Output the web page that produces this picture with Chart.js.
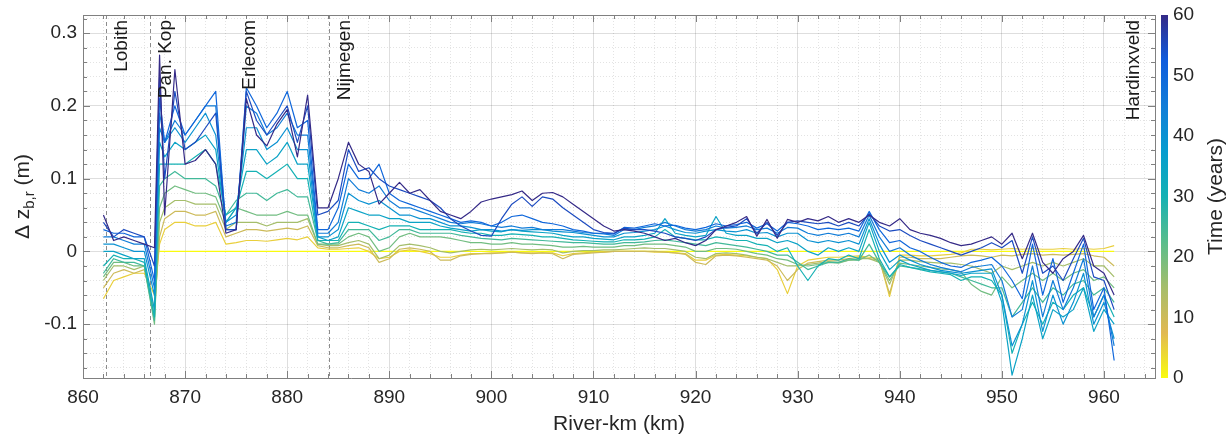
<!DOCTYPE html>
<html>
<head>
<meta charset="utf-8">
<script src="https://cdn.jsdelivr.net/npm/chart.js@4.4.1/dist/chart.umd.min.js"></script>
<style>
  html, body { margin: 0; padding: 0; background: #fff; }
  #wrap { width: 1228px; height: 438px; }
</style>
</head>
<body>
<div id="wrap"><canvas id="chart" width="1228" height="438"></canvas></div>
<script>
// river-km of the output cross-sections
const km = [862, 863, 864, 865, 866, 867, 867.5,
  868, 869, 870, 871, 872, 873, 874, 875,
  876, 877, 878, 879, 880, 881, 882, 883,
  884, 885, 886, 887, 888, 889, 890, 891, 892, 893, 894, 895,
  896, 897, 898, 899, 900, 901, 902, 903, 904, 905, 906, 907, 908, 909, 910, 911, 912,
  913, 914, 915, 916, 917, 918, 919, 920, 921, 922, 923, 924, 925, 926, 927, 928, 929, 930,
  931, 932, 933, 934, 935, 936, 937, 938, 939, 940, 941, 942, 943, 944, 945, 946,
  947, 948, 949, 950, 951, 952, 953, 954, 955, 956, 957, 958, 959, 960, 961];

// years after start for each plotted profile
const years = [0, 5, 10, 15, 20, 25, 30, 35, 40, 45, 50, 55, 60];

// bed level change dz_b,r (m) per profile
const dz0 = [null, null, null, null, null, null, 0,
  0, 0, 0, 0, 0, 0, 0, 0,
  0, 0, 0, 0, 0, 0, 0, 0,
  0, 0, 0, 0, 0, 0, 0, 0, 0, 0, 0, 0,
  0, 0, 0, 0, 0, 0, 0, 0, 0, 0, 0, 0, 0, 0, 0, 0, 0,
  0, 0, 0, 0, 0, 0, 0, 0, 0, 0, 0, 0, 0, 0, 0, 0, 0, 0,
  0, 0, 0, 0, 0, 0, 0, 0, 0, 0, 0, 0, 0, 0, 0, 0,
  0, 0, 0, 0, 0, 0, 0, 0, 0, 0, 0, 0, 0, 0, 0];
const dz5 = [-0.065, -0.04, -0.035, -0.03, -0.03, -0.06, 0.01,
  0.03, 0.04, 0.04, 0.035, 0.035, 0.04, 0.01, 0.012,
  0.015, 0.015, 0.014, 0.016, 0.018, 0.016, 0.02, 0.005,
  0.003, 0.003, 0.004, 0.005, 0.0, -0.01, -0.008, 0.0, 0.002, 0.0, -0.003, -0.008,
  -0.008, -0.005, -0.003, -0.003, -0.002, -0.002, -0.001, -0.002, -0.002, -0.002, -0.002, -0.006, -0.003, -0.002, -0.001, -0.001, 0.0,
  0.0, 0.0, 0.0, -0.001, -0.001, -0.002, -0.003, -0.012, -0.012, -0.005, -0.004, -0.005, -0.006, -0.008, -0.01, -0.025, -0.058, -0.02,
  -0.012, -0.01, -0.008, -0.008, -0.007, -0.006, -0.008, -0.01, -0.062, -0.005, -0.005, -0.006, -0.006, -0.005, -0.004, -0.002,
  0.003, 0.003, 0.002, 0.003, 0.004, 0.003, 0.004, 0.003, 0.003, 0.004, 0.003, 0.004, 0.003, 0.004, 0.008];
const dz10 = [-0.05, -0.03, -0.025, -0.03, -0.025, -0.08, 0.02,
  0.045, 0.055, 0.055, 0.05, 0.05, 0.055, 0.02, 0.025,
  0.03, 0.03, 0.028, 0.03, 0.032, 0.03, 0.035, 0.008,
  0.005, 0.005, 0.008, 0.01, 0.005, -0.015, -0.01, 0.003, 0.005, 0.003, 0.0, -0.012,
  -0.012, -0.006, -0.004, -0.003, -0.003, -0.002, -0.001, -0.002, -0.003, -0.002, -0.003, -0.01, -0.004, -0.003, -0.002, -0.001, 0.0,
  0.0, 0.0, 0.0, 0.0, -0.001, -0.002, -0.004, -0.015, -0.018, -0.006, -0.005, -0.006, -0.008, -0.01, -0.012, -0.02, -0.04, -0.025,
  -0.016, -0.014, -0.012, -0.012, -0.01, -0.008, -0.01, -0.012, -0.058, -0.008, -0.008, -0.01, -0.01, -0.01, -0.008, -0.006,
  -0.005, -0.006, -0.008, -0.005, -0.006, -0.004, -0.003, -0.005, -0.004, -0.005, -0.004, -0.003, -0.006, -0.008, -0.02];
const dz15 = [-0.04, -0.02, -0.02, -0.025, -0.02, -0.09, 0.04,
  0.06, 0.07, 0.07, 0.065, 0.065, 0.065, 0.03, 0.04,
  0.04, 0.04, 0.035, 0.04, 0.04, 0.04, 0.045, 0.01,
  0.008, 0.008, 0.012, 0.015, 0.01, -0.01, -0.005, 0.008, 0.01, 0.008, 0.005, 0.0,
  -0.002, 0.0, 0.002, 0.003, 0.002, 0.003, 0.004, 0.003, 0.002, 0.003, 0.002, -0.002, 0.0, 0.001, 0.001, 0.002, 0.002,
  0.003, 0.004, 0.005, 0.004, 0.004, 0.002, 0.0, -0.008, -0.01, -0.003, -0.002, -0.003, -0.005, -0.008, -0.01, -0.015, -0.02, -0.02,
  -0.018, -0.016, -0.014, -0.015, -0.012, -0.01, -0.01, -0.015, -0.045, -0.012, -0.012, -0.014, -0.015, -0.016, -0.016, -0.018,
  -0.02, -0.025, -0.03, -0.02, -0.025, -0.02, -0.015, -0.02, -0.015, -0.02, -0.015, -0.01, -0.02, -0.02, -0.035];
const dz20 = [-0.035, -0.015, -0.015, -0.02, -0.02, -0.1, 0.06,
  0.08, 0.09, 0.085, 0.08, 0.08, 0.075, 0.04, 0.06,
  0.055, 0.05, 0.05, 0.05, 0.055, 0.05, 0.05, 0.01,
  0.01, 0.01, 0.02, 0.025, 0.02, 0.0, 0.005, 0.02, 0.025, 0.02, 0.02, 0.02,
  0.018, 0.015, 0.012, 0.012, 0.01, 0.01, 0.012, 0.01, 0.01, 0.009, 0.008, 0.006, 0.006, 0.007, 0.006, 0.006, 0.006,
  0.008, 0.008, 0.01, 0.01, 0.01, 0.008, 0.006, 0.0, 0.0, 0.004, 0.004, 0.003, 0.0, -0.003, -0.005, -0.01, -0.012, -0.018,
  -0.02, -0.018, -0.015, -0.016, -0.012, -0.012, -0.005, -0.015, -0.04, -0.016, -0.018, -0.02, -0.022, -0.024, -0.025, -0.028,
  -0.045, -0.055, -0.06, -0.035, -0.05, -0.04, -0.03, -0.04, -0.03, -0.04, -0.03, -0.025, -0.04, -0.035, -0.05];
const dz25 = [-0.03, -0.01, -0.015, -0.015, -0.02, -0.095, 0.09,
  0.1, 0.11, 0.1, 0.1, 0.1, 0.09, 0.05, 0.07,
  0.08, 0.08, 0.07, 0.08, 0.085, 0.075, 0.075, 0.015,
  0.01, 0.012, 0.03, 0.03, 0.03, 0.015, 0.02, 0.03, 0.03, 0.025, 0.025, 0.025,
  0.025, 0.022, 0.02, 0.018, 0.017, 0.016, 0.018, 0.017, 0.016, 0.015, 0.014, 0.013, 0.012, 0.012, 0.011, 0.01, 0.01,
  0.012, 0.012, 0.013, 0.015, 0.016, 0.014, 0.012, 0.01, 0.008, 0.012, 0.01, 0.008, 0.006, 0.003, 0.0, -0.005, -0.005, -0.015,
  -0.025, -0.02, -0.015, -0.015, -0.01, -0.012, 0.01, -0.015, -0.035, -0.02, -0.022, -0.024, -0.026, -0.028, -0.03, -0.035,
  -0.04, -0.045, -0.05, -0.05, -0.09, -0.07, -0.05, -0.07, -0.05, -0.06, -0.045, -0.04, -0.06, -0.05, -0.07];
const dz30 = [-0.02, -0.005, -0.01, -0.01, -0.015, -0.09, 0.12,
  0.12, 0.12, 0.12, 0.13, 0.14, 0.12, 0.05, 0.06,
  0.11, 0.11, 0.1, 0.11, 0.12, 0.1, 0.1, 0.015,
  0.015, 0.015, 0.04, 0.04, 0.035, 0.03, 0.035, 0.035, 0.035, 0.03, 0.03, 0.03,
  0.03, 0.027, 0.025, 0.025, 0.022, 0.022, 0.024, 0.023, 0.022, 0.02, 0.02, 0.018, 0.016, 0.015, 0.014, 0.013, 0.013,
  0.016, 0.016, 0.017, 0.02, 0.03, 0.02, 0.018, 0.016, 0.016, 0.02, 0.018, 0.015, 0.015, 0.01, 0.008, 0.0, 0.005, -0.02,
  -0.04, -0.02, -0.01, -0.012, -0.005, -0.01, 0.03, -0.01, -0.035, -0.018, -0.022, -0.025, -0.028, -0.03, -0.032, -0.04,
  -0.035, -0.035, -0.04, -0.06, -0.14, -0.1, -0.07, -0.1, -0.07, -0.08, -0.06, -0.05, -0.09, -0.06, -0.09];
const dz35 = [0.0, 0.0, -0.005, -0.01, -0.01, -0.08, 0.15,
  0.13, 0.15, 0.14, 0.15, 0.16, 0.14, 0.04, 0.06,
  0.14, 0.14, 0.12, 0.13, 0.15, 0.12, 0.12, 0.02,
  0.015, 0.02, 0.06, 0.055, 0.05, 0.05, 0.045, 0.045, 0.04, 0.04, 0.04, 0.035,
  0.032, 0.03, 0.028, 0.03, 0.028, 0.027, 0.03, 0.028, 0.027, 0.026, 0.025, 0.022, 0.02, 0.02, 0.018, 0.017, 0.016,
  0.02, 0.02, 0.022, 0.025, 0.045, 0.025, 0.022, 0.02, 0.022, 0.048, 0.025, 0.022, 0.022, 0.018, 0.018, 0.012, 0.015, 0.01,
  0.0, -0.005, 0.005, 0.0, 0.005, 0.0, 0.04, 0.0, -0.025, -0.012, -0.018, -0.022, -0.026, -0.028, -0.03, -0.033,
  -0.03, -0.03, -0.03, -0.07, -0.17, -0.12, -0.06, -0.12, -0.08, -0.09, -0.08, -0.05, -0.11, -0.08, -0.1];
const dz40 = [0.01, 0.01, 0.005, 0.0, 0.0, -0.06, 0.17,
  0.15, 0.17, 0.15, 0.17, 0.19, 0.16, 0.04, 0.05,
  0.17, 0.17, 0.14, 0.15, 0.17, 0.14, 0.14, 0.02,
  0.02, 0.03, 0.08, 0.07, 0.065, 0.07, 0.06, 0.05, 0.05, 0.045, 0.045, 0.04,
  0.035, 0.035, 0.033, 0.03, 0.03, 0.028, 0.03, 0.029, 0.03, 0.03, 0.028, 0.027, 0.026, 0.024, 0.022, 0.02, 0.02,
  0.025, 0.026, 0.028, 0.03, 0.035, 0.03, 0.026, 0.025, 0.028, 0.03, 0.028, 0.027, 0.03, 0.025, 0.026, 0.02, 0.025, 0.025,
  0.015, 0.012, 0.015, 0.012, 0.015, 0.01, 0.045, 0.01, -0.015, -0.005, -0.012, -0.018, -0.022, -0.026, -0.028, -0.03,
  -0.028, -0.026, -0.024, -0.06, -0.13, -0.1, -0.04, -0.11, -0.06, -0.1, -0.07, -0.03, -0.1, -0.07, -0.12];
const dz45 = [0.02, 0.02, 0.015, 0.01, 0.01, -0.05, 0.19,
  0.15, 0.18, 0.16, 0.18, 0.2, 0.2, 0.035, 0.04,
  0.2, 0.19, 0.16, 0.17, 0.19, 0.16, 0.16, 0.025,
  0.025, 0.04, 0.1, 0.085, 0.08, 0.09, 0.07, 0.06, 0.06, 0.055, 0.05, 0.045,
  0.04, 0.038, 0.04, 0.038, 0.035, 0.033, 0.035, 0.032, 0.033, 0.03, 0.03, 0.03, 0.028, 0.026, 0.025, 0.024, 0.022,
  0.03, 0.03, 0.033, 0.035, 0.04, 0.035, 0.03, 0.028, 0.03, 0.035, 0.032, 0.033, 0.035, 0.03, 0.032, 0.025, 0.033, 0.032,
  0.025, 0.022, 0.025, 0.022, 0.025, 0.02, 0.05, 0.02, 0.0, 0.005, -0.005, -0.012, -0.018, -0.022, -0.025, -0.028,
  -0.022, -0.02, -0.018, -0.04, -0.09, -0.08, -0.02, -0.09, -0.04, -0.08, -0.05, -0.01, -0.09, -0.06, -0.13];
const dz50 = [0.03, 0.025, 0.025, 0.02, 0.02, -0.04, 0.21,
  0.15, 0.2, 0.16, 0.18, 0.2, 0.22, 0.03, 0.03,
  0.225, 0.2, 0.17, 0.19, 0.22, 0.17, 0.18, 0.03,
  0.03, 0.06, 0.12, 0.1, 0.1, 0.12, 0.08, 0.07, 0.065, 0.06, 0.055, 0.05,
  0.045, 0.04, 0.042, 0.04, 0.035, 0.04, 0.048, 0.05, 0.045, 0.04, 0.038, 0.035, 0.03, 0.028, 0.025, 0.025, 0.024,
  0.033, 0.032, 0.035, 0.038, 0.035, 0.036, 0.032, 0.03, 0.033, 0.038, 0.035, 0.037, 0.04, 0.032, 0.038, 0.028, 0.04, 0.038,
  0.035, 0.03, 0.032, 0.03, 0.032, 0.028, 0.055, 0.03, 0.012, 0.015, 0.005, 0.0, -0.008, -0.015, -0.02, -0.022,
  -0.015, -0.012, -0.008, -0.02, -0.04, -0.065, 0.01, -0.06, -0.01, -0.07, -0.03, 0.01, -0.08, -0.05, -0.15];
const dz55 = [0.04, 0.02, 0.03, 0.025, 0.02, -0.02, 0.24,
  0.1, 0.22, 0.14, 0.15, 0.17, 0.19, 0.03, 0.03,
  0.22, 0.18, 0.16, 0.18, 0.2, 0.15, 0.2, 0.05,
  0.055, 0.07, 0.14, 0.11, 0.115, 0.1, 0.09, 0.085, 0.08, 0.075, 0.07, 0.06,
  0.045, 0.035, 0.028, 0.022, 0.021, 0.045, 0.065, 0.075, 0.062, 0.075, 0.072, 0.06, 0.05, 0.04, 0.03, 0.026, 0.025,
  0.032, 0.03, 0.03, 0.028, 0.025, 0.02, 0.018, 0.015, 0.02, 0.03, 0.033, 0.035, 0.045, 0.025, 0.04, 0.022, 0.04, 0.042,
  0.04, 0.038, 0.04, 0.035, 0.04, 0.035, 0.052, 0.035, 0.028, 0.03, 0.022, 0.015, 0.01, 0.005, 0.0, -0.005,
  0.0, 0.005, 0.012, 0.005, 0.015, -0.03, 0.02, -0.03, -0.02, -0.04, -0.01, 0.018, -0.035, -0.04, -0.08];
const dz60 = [0.05, 0.015, 0.02, 0.015, 0.01, 0.005, 0.27,
  0.05, 0.25, 0.12, 0.125, 0.14, 0.12, 0.025, 0.03,
  0.21, 0.16, 0.145, 0.175, 0.195, 0.13, 0.215, 0.06,
  0.06, 0.1, 0.15, 0.12, 0.11, 0.065, 0.08, 0.095, 0.08, 0.085, 0.07, 0.055,
  0.05, 0.045, 0.055, 0.068, 0.072, 0.075, 0.078, 0.083, 0.07, 0.08, 0.081, 0.075, 0.065, 0.055, 0.045, 0.035, 0.028,
  0.03, 0.028, 0.025, 0.02, 0.015, 0.018, 0.012, 0.008, 0.015, 0.03, 0.035, 0.04, 0.048, 0.021, 0.044, 0.018, 0.044, 0.04,
  0.045, 0.042, 0.048, 0.04, 0.045, 0.04, 0.05, 0.04, 0.035, 0.045, 0.03, 0.025, 0.022, 0.018, 0.012, 0.008,
  0.01, 0.015, 0.02, 0.01, 0.025, -0.01, 0.025, -0.015, -0.03, -0.01, 0.0, 0.022, -0.02, -0.03, -0.06];

const profiles = [dz0, dz5, dz10, dz15, dz20, dz25, dz30, dz35, dz40, dz45, dz50, dz55, dz60];

// named locations along the river (river-km)
const places = ['Lobith', 'Pan. Kop', 'Erlecom', 'Nijmegen', 'Hardinxveld'];
const placeKm = [862.3, 866.6, 874.8, 884.1, 961.4];
const placeLine = [true, true, false, true, false];

const yTicksMajor = [-0.1, 0, 0.1, 0.2, 0.3];
const xTicksMajor = [860, 870, 880, 890, 900, 910, 920, 930, 940, 950, 960];
const cbTicks = [0, 10, 20, 30, 40, 50, 60];

// parula colour map, dark (0) to yellow (1)
const parulaStops = [[53, 42, 135], [15, 92, 221], [18, 125, 216], [7, 156, 207],
  [21, 177, 180], [89, 189, 140], [165, 190, 107], [225, 185, 82], [249, 251, 14]];

function parula(f) {
  const n = parulaStops.length - 1;
  const p = Math.min(Math.max(f, 0), 1) * n;
  const i = Math.min(Math.floor(p), n - 1);
  const r = p - i;
  const a = parulaStops[i], b = parulaStops[i + 1];
  const c = a.map((v, k) => Math.round(v + (b[k] - v) * r));
  return 'rgb(' + c.join(',') + ')';
}

const FONT = '"Liberation Sans", Arial, sans-serif';
const TXT = '#262626';
const AXIS = '#808080';

function isMajor(v, step) {
  return Math.abs(v / step - Math.round(v / step)) < 1e-6;
}

// keep vertical axes from pushing the plot area down
function noPad(s) {
  s.paddingTop = 0;
  s.paddingBottom = 0;
}

const datasets = profiles.map(function (p, i) {
  return {
    label: years[i] + ' years',
    data: p.map(function (v, j) { return {x: km[j], y: v}; }),
    borderColor: parula(1 - years[i] / 60),
    borderWidth: 1.2,
    pointRadius: 0,
    tension: 0,
    spanGaps: false,
    order: 60 - years[i]   // latest profile on top
  };
});

const extras = {
  id: 'extras',
  beforeDatasetsDraw(chart) {
    const {ctx, chartArea: a, scales: {x}} = chart;
    ctx.save();
    ctx.strokeStyle = '#8c8c8c';
    ctx.lineWidth = 1;
    ctx.setLineDash([4, 3]);
    places.forEach(function (name, i) {
      if (!placeLine[i]) return;
      const px = Math.round(x.getPixelForValue(placeKm[i])) + 0.5;
      ctx.beginPath();
      ctx.moveTo(px, a.top);
      ctx.lineTo(px, a.bottom);
      ctx.stroke();
    });
    ctx.restore();
  },
  afterDatasetsDraw(chart) {
    const {ctx, chartArea: a, scales: {x, y, cb}} = chart;
    ctx.save();

    // top frame line
    ctx.strokeStyle = AXIS;
    ctx.lineWidth = 1;
    ctx.beginPath();
    ctx.moveTo(a.left, a.top + 0.5);
    ctx.lineTo(a.right, a.top + 0.5);
    ctx.stroke();

    // inward tick marks on all four sides
    ctx.beginPath();
    x.ticks.forEach(function (t) {
      const px = Math.round(x.getPixelForValue(t.value)) + 0.5;
      const len = isMajor(t.value, 10) ? 7 : 4;
      ctx.moveTo(px, a.bottom); ctx.lineTo(px, a.bottom - len);
      ctx.moveTo(px, a.top); ctx.lineTo(px, a.top + len);
    });
    y.ticks.forEach(function (t) {
      const py = Math.round(y.getPixelForValue(t.value)) + 0.5;
      const len = isMajor(t.value, 0.1) ? 7 : 4;
      ctx.moveTo(a.left, py); ctx.lineTo(a.left + len, py);
      ctx.moveTo(a.right, py); ctx.lineTo(a.right - len, py);
    });
    ctx.stroke();

    // place names, rotated
    ctx.fillStyle = '#1a1a1a';
    ctx.font = '19px ' + FONT;
    ctx.textAlign = 'right';
    ctx.textBaseline = 'alphabetic';
    places.forEach(function (name, i) {
      const bx = x.getPixelForValue(placeKm[i]) + 21;
      ctx.save();
      ctx.translate(bx, a.top + 5);
      ctx.rotate(-Math.PI / 2);
      ctx.fillText(name, 0, 0);
      ctx.restore();
    });

    // colour bar
    const g = ctx.createLinearGradient(0, a.bottom, 0, a.top);
    parulaStops.forEach(function (s, k) {
      const f = k / (parulaStops.length - 1);
      g.addColorStop(f, parula(1 - f));
    });
    ctx.fillStyle = g;
    ctx.fillRect(cb.left + 6, a.top, 7, a.bottom - a.top);

    // y-axis title with subscript
    ctx.fillStyle = TXT;
    ctx.textAlign = 'left';
    ctx.save();
    ctx.translate(29, (a.top + a.bottom) / 2);
    ctx.rotate(-Math.PI / 2);
    ctx.font = '21px ' + FONT;
    const w1 = ctx.measureText('\u0394 z').width;
    const w3 = ctx.measureText(' (m)').width;
    ctx.font = '15px ' + FONT;
    const w2 = ctx.measureText('b,r').width;
    const x0 = -(w1 + w2 + w3) / 2;
    ctx.font = '21px ' + FONT;
    ctx.fillText('\u0394 z', x0, 0);
    ctx.font = '15px ' + FONT;
    ctx.fillText('b,r', x0 + w1, 5);
    ctx.font = '21px ' + FONT;
    ctx.fillText(' (m)', x0 + w1 + w2, 0);
    ctx.restore();

    // colour bar title
    ctx.save();
    ctx.translate(1222, (a.top + a.bottom) / 2);
    ctx.rotate(-Math.PI / 2);
    ctx.textAlign = 'center';
    ctx.font = '21px ' + FONT;
    ctx.fillText('Time (years)', 0, 0);
    ctx.restore();

    ctx.restore();
  }
};

new Chart(document.getElementById('chart'), {
  type: 'line',
  data: {datasets: datasets},
  options: {
    responsive: false,
    animation: false,
    events: [],
    layout: {padding: {top: 15, left: 0, right: 0, bottom: 0}},
    elements: {line: {borderJoinStyle: 'round'}},
    plugins: {legend: {display: false}, tooltip: {enabled: false}},
    scales: {
      x: {
        type: 'linear',
        min: 860,
        max: 965,
        afterFit: function (s) { s.height = 60; },
        ticks: {
          stepSize: 2,
          includeBounds: false,
          autoSkip: false,
          maxRotation: 0,
          padding: 8,
          color: TXT,
          font: {family: FONT, size: 19},
          callback: function (v) { return xTicksMajor.indexOf(Math.round(v)) >= 0 && isMajor(v, 10) ? String(Math.round(v)) : ''; }
        },
        grid: {
          drawTicks: false,
          color: function (c) { return c.tick && isMajor(c.tick.value, 10) ? 'rgba(0,0,0,0.13)' : 'rgba(0,0,0,0.11)'; }
        },
        border: {
          display: true,
          color: AXIS,
          dash: function (c) { return c.tick && !isMajor(c.tick.value, 10) ? [1, 2] : []; }
        },
        title: {
          display: true,
          text: 'River-km (km)',
          color: TXT,
          font: {family: FONT, size: 21},
          padding: {top: 0, bottom: 1}
        }
      },
      y: {
        type: 'linear',
        position: 'left',
        min: -0.174,
        max: 0.325,
        afterFit: function (s) { s.width = 83; noPad(s); },
        ticks: {
          stepSize: 0.02,
          includeBounds: false,
          autoSkip: false,
          padding: 6,
          color: TXT,
          font: {family: FONT, size: 19},
          callback: function (v) {
            if (!isMajor(v, 0.1)) return '';
            const r = Math.round(v * 10) / 10;
            return yTicksMajor.indexOf(r) >= 0 ? String(r) : '';
          }
        },
        grid: {
          drawTicks: false,
          color: function (c) { return c.tick && isMajor(c.tick.value, 0.1) ? 'rgba(0,0,0,0.13)' : 'rgba(0,0,0,0.11)'; }
        },
        border: {
          display: true,
          color: AXIS,
          dash: function (c) { return c.tick && !isMajor(c.tick.value, 0.1) ? [1, 2] : []; }
        }
      },
      cb: {
        type: 'linear',
        position: 'right',
        min: 0,
        max: 60,
        afterFit: function (s) { s.width = 73; noPad(s); },
        afterBuildTicks: function (s) { s.ticks = cbTicks.map(function (v) { return {value: v}; }); },
        ticks: {
          padding: 18,
          color: TXT,
          font: {family: FONT, size: 19}
        },
        grid: {display: false, drawTicks: false, drawOnChartArea: false},
        border: {display: true, color: AXIS}
      }
    }
  },
  plugins: [extras]
});
</script>
</body>
</html>
